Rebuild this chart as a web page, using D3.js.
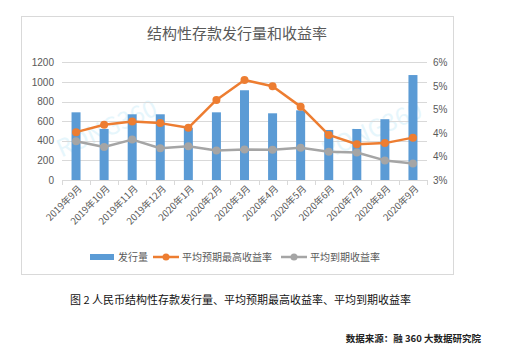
<!DOCTYPE html>
<html><head><meta charset="utf-8">
<script src="https://cdn.jsdelivr.net/npm/d3@7"></script>
<style>
html,body{margin:0;padding:0;background:#fff;}
svg{display:block;font-family:"Noto Sans CJK SC","Noto Sans",sans-serif;}
</style></head>
<body><svg id="c" width="508" height="360"></svg>
<script>
const categories = ["2019年9月","2019年10月","2019年11月","2019年12月","2020年1月","2020年2月","2020年3月","2020年4月","2020年5月","2020年6月","2020年7月","2020年8月","2020年9月"];
const issuance = [690,520,670,670,530,690,915,680,710,510,520,620,1070];
const maxYield = [4.22,4.41,4.49,4.45,4.33,5.04,5.55,5.39,4.87,4.15,3.91,3.94,4.08];
const matYield = [3.99,3.84,4.03,3.81,3.86,3.75,3.78,3.77,3.82,3.72,3.70,3.50,3.42];
const leftTicks = [0,200,400,600,800,1000,1200];
const rightTicks = [3.0,3.6,4.2,4.8,5.4,6.0];
const seriesNames = ["发行量","平均预期最高收益率","平均到期收益率"];
const title = "结构性存款发行量和收益率";
const caption = "图 2  人民币结构性存款发行量、平均预期最高收益率、平均到期收益率";
const source = "数据来源：融 360 大数据研究院";

const svg = d3.select("#c");
const C = {blue:"#5B9BD5", orange:"#ED7D31", gray:"#A5A5A5", grid:"#D9D9D9", text:"#595959"};
const L=62, R=427, T=62.3, B=180;

svg.append("rect").attr("x",21.5).attr("y",16.5).attr("width",432).attr("height",258)
  .attr("fill","#fff").attr("stroke","#D9D9D9").attr("stroke-width",1);

svg.append("text").attr("x",237).attr("y",39).attr("text-anchor","middle")
  .attr("font-size",15).attr("fill",C.text).text(title);

const x = d3.scaleBand().domain(categories).range([L,R]);
const yL = d3.scaleLinear().domain([0,1200]).range([B,T]);
const yR = d3.scaleLinear().domain([3,6]).range([B,T]);

// watermarks
[[110,136],[375,138]].forEach(([wx,wy])=>{
  svg.append("text").attr("transform",`translate(${wx},${wy}) rotate(-24)`)
    .attr("text-anchor","middle").attr("font-size",24)
    .attr("fill","#E6F6FC").text("RONG360");
});

svg.append("g").selectAll("line").data(leftTicks.filter(d=>d>0)).join("line")
  .attr("x1",L).attr("x2",R).attr("y1",d=>Math.round(yL(d))+0.5).attr("y2",d=>Math.round(yL(d))+0.5)
  .attr("stroke",C.grid).attr("stroke-width",1);

const ga = svg.append("g").attr("transform",`translate(${L},0)`)
  .call(d3.axisLeft(yL).tickValues(leftTicks).tickSize(0).tickPadding(8).tickFormat(d3.format("d")));
ga.select(".domain").remove();
ga.selectAll("text").attr("font-size",10).attr("fill",C.text).attr("font-family","'Liberation Sans',sans-serif");

const gr = svg.append("g").attr("transform",`translate(${R},0)`)
  .call(d3.axisRight(yR).tickValues(rightTicks).tickSize(0).tickPadding(6).tickFormat(d=>Math.round(d)+"%"));
gr.select(".domain").remove();
gr.selectAll("text").attr("font-size",10).attr("fill",C.text).attr("font-family","'Liberation Sans',sans-serif");

const bw = 9;
svg.append("g").selectAll("rect").data(issuance).join("rect")
  .attr("x",(d,i)=>x(categories[i])+x.bandwidth()/2-bw/2)
  .attr("width",bw).attr("y",d=>yL(d)).attr("height",d=>B-yL(d)).attr("fill",C.blue);

svg.append("line").attr("x1",L).attr("x2",R).attr("y1",B+0.5).attr("y2",B+0.5).attr("stroke",C.grid);
svg.append("g").selectAll("line").data(d3.range(categories.length+1)).join("line")
  .attr("x1",i=>Math.round(L+i*x.step())+0.5).attr("x2",i=>Math.round(L+i*x.step())+0.5)
  .attr("y1",B).attr("y2",B+5).attr("stroke",C.grid);
svg.append("g").selectAll("text").data(categories).join("text")
  .attr("transform",d=>`translate(${x(d)+x.bandwidth()/2+4},${B+7}) rotate(-45)`)
  .attr("text-anchor","end").attr("dy","0.35em").attr("font-size",9.5).attr("fill",C.text).text(d=>d);

function drawLine(vals,color){
  const line = d3.line().x((d,i)=>x(categories[i])+x.bandwidth()/2).y(d=>yR(d));
  svg.append("path").datum(vals).attr("d",line).attr("fill","none")
    .attr("stroke",color).attr("stroke-width",2.5).attr("stroke-linejoin","round");
  svg.append("g").selectAll("circle").data(vals).join("circle")
    .attr("cx",(d,i)=>x(categories[i])+x.bandwidth()/2).attr("cy",d=>yR(d)).attr("r",4).attr("fill",color);
}
drawLine(matYield,C.gray);
drawLine(maxYield,C.orange);

const ly = 257;
svg.append("rect").attr("x",90).attr("y",ly-3).attr("width",24).attr("height",6).attr("fill",C.blue);
svg.append("text").attr("x",118).attr("y",ly).attr("dy","0.35em").attr("font-size",10).attr("fill",C.text).text(seriesNames[0]);
[[153,C.orange,seriesNames[1]],[281,C.gray,seriesNames[2]]].forEach(([lx,col,name])=>{
  svg.append("line").attr("x1",lx).attr("x2",lx+26).attr("y1",ly).attr("y2",ly).attr("stroke",col).attr("stroke-width",2.5);
  svg.append("circle").attr("cx",lx+13).attr("cy",ly).attr("r",3.5).attr("fill",col);
  svg.append("text").attr("x",lx+29).attr("y",ly).attr("dy","0.35em").attr("font-size",10).attr("fill",C.text).text(name);
});

svg.append("text").attr("x",70).attr("y",304).attr("font-size",11).attr("fill","#111").text(caption);
svg.append("text").attr("x",481).attr("y",342).attr("text-anchor","end").attr("font-size",9.5)
  .attr("font-weight","bold").attr("fill","#222").text(source);
</script></body></html>
